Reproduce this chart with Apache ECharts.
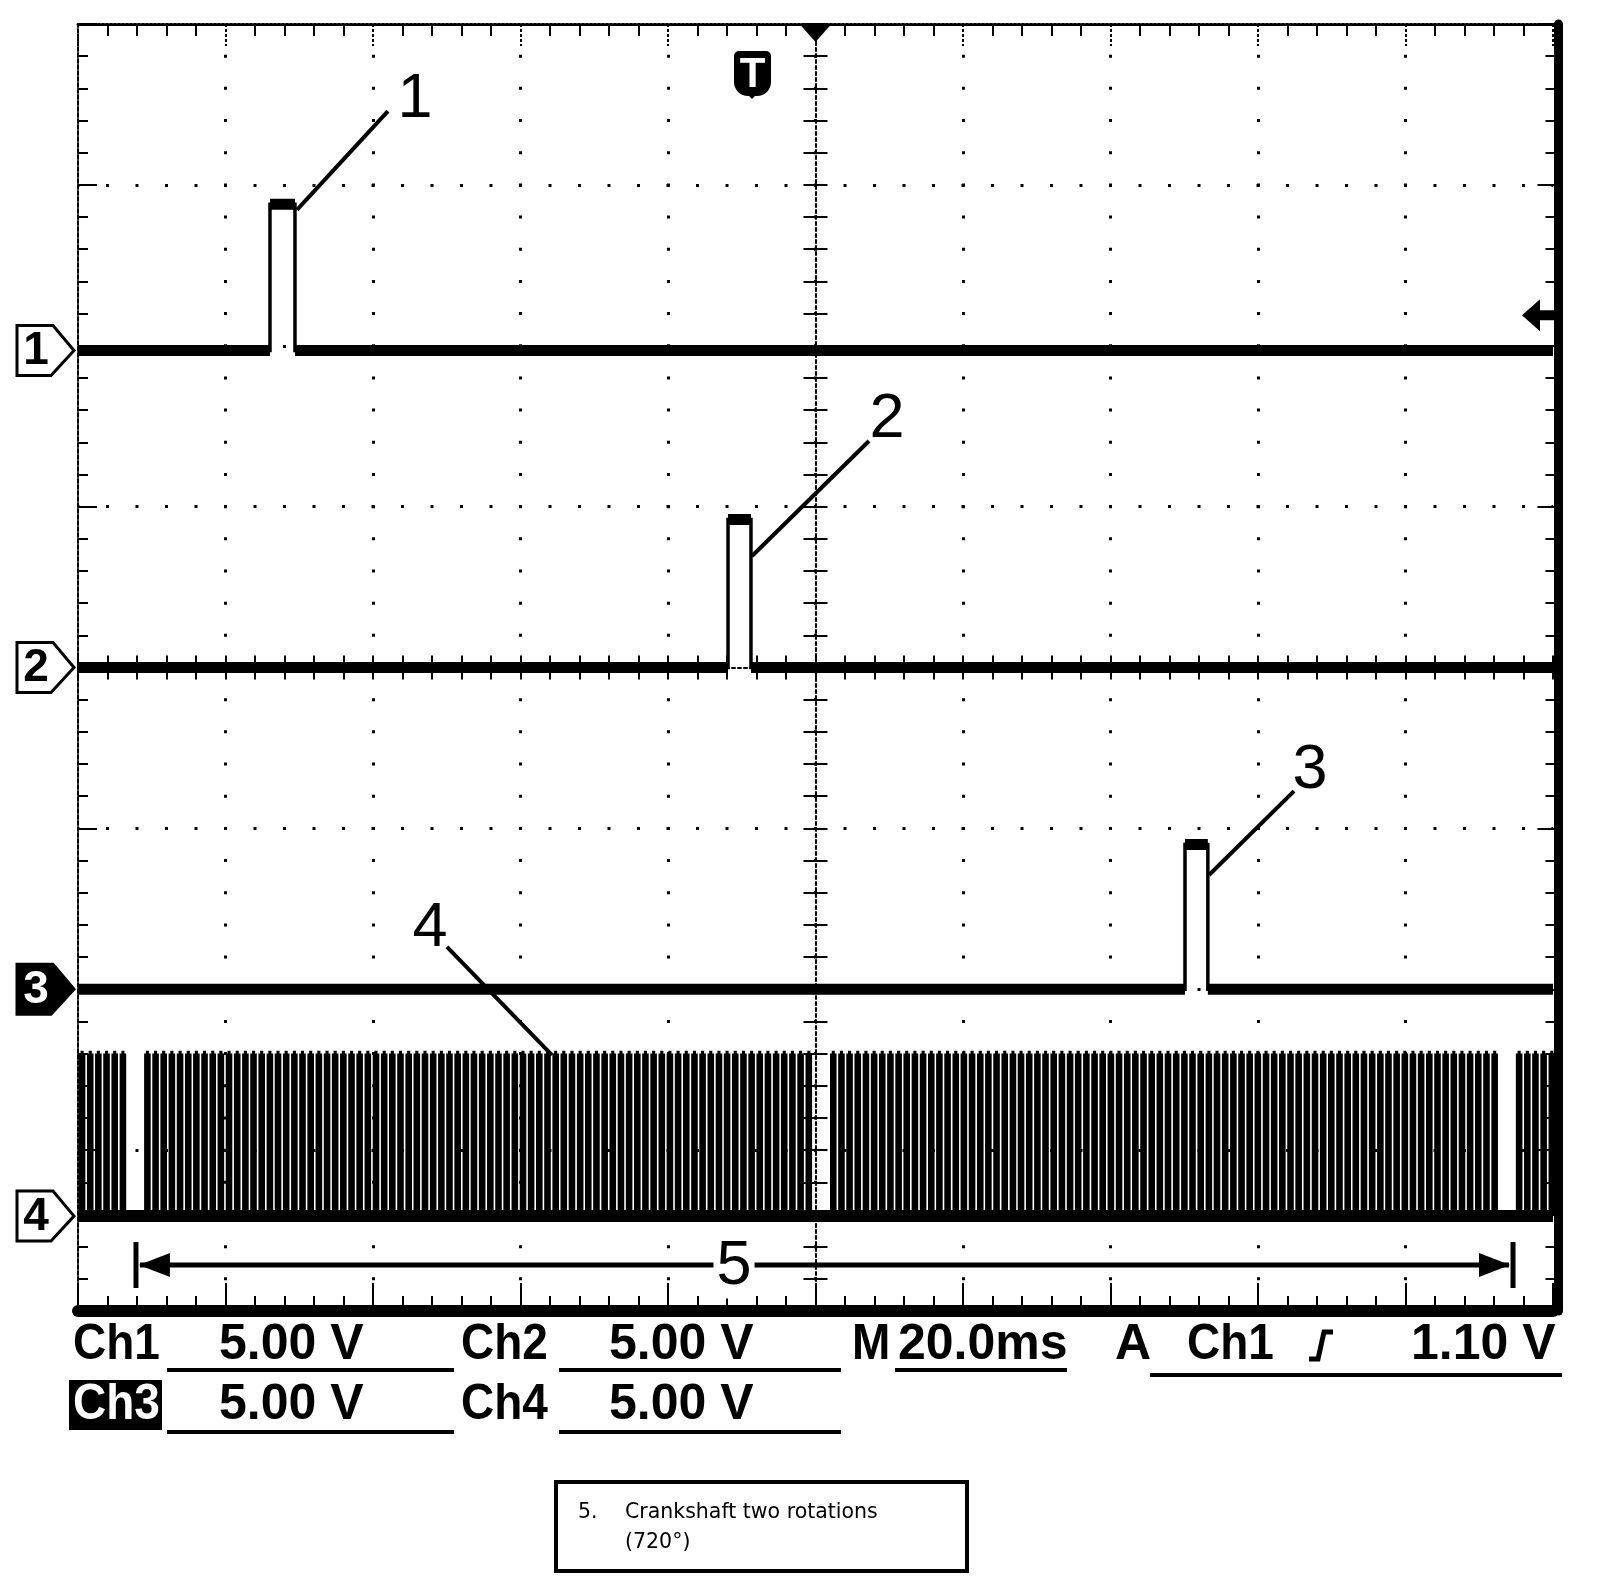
<!DOCTYPE html>
<html>
<head>
<meta charset="utf-8">
<title>Oscilloscope capture</title>
<script src="https://cdn.jsdelivr.net/npm/echarts@6.0.0/dist/echarts.min.js"></script>
<style>
html,body{margin:0;padding:0;background:#fff;}
#chart{width:1600px;height:1588px;}
</style>
</head>
<body>
<div id="chart"></div>
<script>
const timeWindowMs = [-100, 100];      // 10 div x 20.0 ms, trigger at centre
const msPerDiv = 20;
const divWindow = [-4, 4];             // 8 vertical divisions
const channelNames = ['1', '2', '3', '4'];
const voltsPerDiv = [5, 5, 5, 5];
const channelZeroDiv = [1.97, 0, -2, -3.41];

// injector pulses (Ch1..Ch3)
const injectorStartMs = [-73.97, -11.86, 50.10];
const injectorEndMs   = [-70.58, -8.75, 53.20];
const injectorVolts   = [4.55, 4.6, 4.5];

// crank sensor teeth (Ch4): rising edge times, ms
const crankHighVolts = 5.0;
const crankToothWidthMs = 0.42;
const crankToothRiseMs = [
  -99.66, -98.55, -97.45, -96.34, -95.23, -94.12,
  -90.80, -89.69, -88.59, -87.48, -86.37, -85.26, -84.16, -83.05, -81.94, -80.84,
  -79.73, -78.62, -77.51, -76.41, -75.30, -74.19, -73.09, -71.98, -70.87, -69.77,
  -68.66, -67.55, -66.44, -65.34, -64.23, -63.12, -62.02, -60.91, -59.80, -58.69,
  -57.59, -56.48, -55.37, -54.27, -53.16, -52.05, -50.94, -49.84, -48.73, -47.62,
  -46.52, -45.41, -44.30, -43.19, -42.09, -40.98, -39.87, -38.77, -37.66, -36.55,
  -35.44, -34.34, -33.23, -32.12, -31.02, -29.91, -28.80, -27.70, -26.59, -25.48,
  -24.37, -23.27, -22.16, -21.05, -19.95, -18.84, -17.73, -16.62, -15.52, -14.41,
  -13.30, -12.20, -11.09, -9.98, -8.87, -7.77, -6.66, -5.55, -4.45, -3.34,
  -2.23, -1.12,
  2.20, 3.31, 4.41, 5.52, 6.63, 7.74, 8.84, 9.95, 11.06, 12.16,
  13.27, 14.38, 15.49, 16.59, 17.70, 18.81, 19.91, 21.02, 22.13, 23.23,
  24.34, 25.45, 26.56, 27.66, 28.77, 29.88, 30.98, 32.09, 33.20, 34.31,
  35.41, 36.52, 37.63, 38.73, 39.84, 40.95, 42.06, 43.16, 44.27, 45.38,
  46.48, 47.59, 48.70, 49.81, 50.91, 52.02, 53.13, 54.23, 55.34, 56.45,
  57.56, 58.66, 59.77, 60.88, 61.98, 63.09, 64.20, 65.30, 66.41, 67.52,
  68.63, 69.73, 70.84, 71.95, 73.05, 74.16, 75.27, 76.38, 77.48, 78.59,
  79.70, 80.80, 81.91, 83.02, 84.13, 85.23, 86.34, 87.45, 88.55, 89.66,
  90.77, 91.88,
  95.20, 96.31, 97.41, 98.52, 99.63
];

// two crank rotations (720 deg) span, ms
const rotationSpanMs = [-92.14, 94.58];

// trigger
const triggerLevelV = 1.10;
const timebaseText = '20.0ms';
const statusRow1 = ['Ch1', '5.00 V', 'Ch2', '5.00 V', 'M', timebaseText, 'A', 'Ch1', '1.10 V'];
const statusRow2 = ['Ch3', '5.00 V', 'Ch4', '5.00 V'];
const captionLines = ['5.', 'Crankshaft two rotations', '(720°)'];

// ================= LAYOUT (annotation positions, data units) =================
const calloutText   = ['1', '2', '3', '4'];
const calloutAt     = [[-54.31, 3.528], [9.69, 1.538], [67.05, -0.643], [-52.27, -1.626]];
const calloutFrom   = [[-70.31, 2.844], [-8.61, 0.693], [53.36, -1.290], [-49.97, -1.737]];
const calloutTo     = [[-57.97, 3.459], [7.25, 1.408], [64.88, -0.768], [-35.73, -2.409]];
const spanY = -3.714, spanLabelT = -11.05, spanLabelY = -3.727;
const triggerIconT = -8.61;

// ================= BUILD =================
const chart = echarts.init(document.getElementById('chart'), null, {renderer: 'canvas', width: 1600, height: 1588});
const BLACK = '#000';

function pulseThin(i) {
  const z = channelZeroDiv[i], h = z + injectorVolts[i] / voltsPerDiv[i];
  const a = injectorStartMs[i], b = injectorEndMs[i];
  return [[timeWindowMs[0], z], [a, z], [a, h], [b, h], [b, z], [timeWindowMs[1], z]];
}
function pulseThick(i) {
  const z = channelZeroDiv[i], h = z + injectorVolts[i] / voltsPerDiv[i];
  const a = injectorStartMs[i], b = injectorEndMs[i];
  return [[timeWindowMs[0], z], [a, z], [a, '-'], [a, h], [b, h], [b, '-'], [b, z], [timeWindowMs[1], z]];
}
const zc = channelZeroDiv[3], hc = zc + crankHighVolts / voltsPerDiv[3];
const ch4Thin = [[timeWindowMs[0], zc]];
const ch4Tops = [];
crankToothRiseMs.forEach(t => {
  const e = t + crankToothWidthMs;
  ch4Thin.push([t, zc], [t, hc], [e, hc], [e, zc]);
  ch4Tops.push([t, hc], [e, hc], [e, '-']);
});
ch4Thin.push([timeWindowMs[1], zc]);
const ch4Low = [[timeWindowMs[0], zc], [timeWindowMs[1], zc]];

function lineSeries(data, width) {
  return {
    type: 'line', data, xAxisIndex: 0, yAxisIndex: 0, showSymbol: false, symbol: 'none',
    silent: true, animation: false, connectNulls: false, clip: true,
    lineStyle: {color: BLACK, width, cap: 'butt', join: 'miter'}
  };
}

const series = [];
for (let i = 0; i < 3; i++) {
  series.push(lineSeries(pulseThick(i), 11));
  series.push(lineSeries(pulseThin(i), 3.5));
}
series.push(lineSeries(ch4Low, 12));
series.push(lineSeries(ch4Tops, 9));
series.push(lineSeries(ch4Thin, 3.5));

const xBase = {type: 'value', min: timeWindowMs[0], max: timeWindowMs[1], interval: msPerDiv,
  axisLabel: {show: false}, splitLine: {show: false}};
const yBase = {type: 'value', min: divWindow[0], max: divWindow[1], interval: 1,
  axisLabel: {show: false}, splitLine: {show: false}};
const tickStyle = {color: BLACK, width: 2};

const option = {
  animation: false,
  backgroundColor: '#fff',
  grid: {left: 78, top: 24, width: 1475, height: 1287, containLabel: false, outerBoundsMode: 'none'},
  xAxis: [
    Object.assign({}, xBase, {position: 'bottom',
      axisLine: {show: true, onZero: false, lineStyle: {color: BLACK, width: 12}},
      axisTick: {show: true, inside: true, length: 28, lineStyle: tickStyle},
      minorTick: {show: true, splitNumber: 5, length: 15, lineStyle: tickStyle},
      splitLine: {show: true, showMinLine: false, showMaxLine: false,
        lineStyle: {color: BLACK, width: 3, type: [3, 29.175], dashOffset: 1.5, cap: 'butt'}}}),
    Object.assign({}, xBase, {position: 'top',
      axisLine: {show: true, onZero: false, lineStyle: {color: BLACK, width: 3, type: [2, 2]}},
      axisTick: {show: true, inside: true, length: 22, lineStyle: {color: BLACK, width: 2, type: [3, 2]}},
      minorTick: {show: true, splitNumber: 5, length: 12, lineStyle: tickStyle}}),
    Object.assign({}, xBase, {position: 'bottom',
      axisLine: {show: true, onZero: true, lineStyle: {color: BLACK, width: 2, type: [3, 3]}},
      axisTick: {show: true, inside: true, length: 12, lineStyle: tickStyle},
      minorTick: {show: true, splitNumber: 5, length: 12, lineStyle: tickStyle}}),
    Object.assign({}, xBase, {position: 'bottom',
      axisLine: {show: false, onZero: true},
      axisTick: {show: true, inside: false, length: 12, lineStyle: tickStyle},
      minorTick: {show: true, splitNumber: 5, length: 12, lineStyle: tickStyle}})
  ],
  yAxis: [
    Object.assign({}, yBase, {position: 'left',
      axisLine: {show: true, onZero: false, lineStyle: {color: BLACK, width: 2, type: [4, 2]}},
      axisTick: {show: true, inside: true, length: 19, lineStyle: tickStyle},
      minorTick: {show: true, splitNumber: 5, length: 10, lineStyle: tickStyle},
      splitLine: {show: true, showMinLine: false, showMaxLine: false,
        lineStyle: {color: BLACK, width: 3, type: [3, 26.5], dashOffset: 1.5, cap: 'butt'}}}),
    Object.assign({}, yBase, {position: 'right', offset: 5.5,
      axisLine: {show: true, onZero: false, lineStyle: {color: BLACK, width: 9}},
      axisTick: {show: true, inside: true, length: 21, lineStyle: tickStyle},
      minorTick: {show: true, splitNumber: 5, length: 13, lineStyle: tickStyle}}),
    Object.assign({}, yBase, {position: 'left',
      axisLine: {show: true, onZero: true, lineStyle: {color: BLACK, width: 2, type: [3, 3]}},
      axisTick: {show: true, inside: true, length: 12, lineStyle: tickStyle},
      minorTick: {show: true, splitNumber: 5, length: 12, lineStyle: tickStyle}}),
    Object.assign({}, yBase, {position: 'left',
      axisLine: {show: false, onZero: true},
      axisTick: {show: true, inside: false, length: 12, lineStyle: tickStyle},
      minorTick: {show: true, splitNumber: 5, length: 12, lineStyle: tickStyle}})
  ],
  series
};
chart.setOption(option);

// ================= ANNOTATIONS =================
function px(t, y) { return chart.convertToPixel({xAxisIndex: 0, yAxisIndex: 0}, [t, y]); }
const g = [];
function txt(text, x, y, size, weight, family, fill, align, extra, sx) {
  const el = {type: 'text', z: 100, style: Object.assign({
    text, x, y, fontSize: size, fontWeight: weight, fontFamily: family, fill: fill || BLACK,
    align: align || 'left', verticalAlign: 'middle'
  }, extra || {})};
  if (sx) { el.scaleX = sx; el.originX = x; el.originY = y; }
  return el;
}
function seg(x1, y1, x2, y2, w) {
  return {type: 'line', z: 100, shape: {x1, y1, x2, y2}, style: {stroke: BLACK, lineWidth: w, lineCap: 'butt'}};
}
function poly(points, fill, stroke, w) {
  return {type: 'polygon', z: 100, shape: {points},
    style: {fill: fill, stroke: stroke || null, lineWidth: w || 0, lineJoin: 'miter'}};
}
const LIB = 'Liberation Sans';

// channel ground markers
const gx = px(timeWindowMs[0], 0)[0];
channelNames.forEach((name, i) => {
  const y = px(timeWindowMs[0], channelZeroDiv[i])[1];
  const inv = i === 2;
  g.push(poly([[gx - 61, y - 25], [gx - 25, y - 25], [gx - 4, y], [gx - 27, y + 25], [gx - 61, y + 25]],
    inv ? BLACK : '#fff', BLACK, 3));
  g.push(txt(name, gx - 42, y + 1, 46, 'bold', LIB, inv ? '#fff' : BLACK, 'center'));
});

// trigger position marker (top, time zero)
const tp = px(0, divWindow[1]);
g.push(poly([[tp[0] - 16, tp[1]], [tp[0] + 16, tp[1]], [tp[0], tp[1] + 18]], BLACK));

// "T" icon
const ti = px(triggerIconT, divWindow[1]);
g.push({type: 'rect', z: 100, shape: {x: ti[0] - 18, y: ti[1] + 27, width: 37, height: 45, r: [5, 5, 14, 14]}, style: {fill: BLACK}});
g.push(poly([[ti[0] - 6, ti[1] + 69], [ti[0] + 6, ti[1] + 69], [ti[0], ti[1] + 75]], BLACK));
g.push(txt('T', ti[0] + 0.5, ti[1] + 51, 42, 'bold', LIB, '#fff', 'center'));

// trigger level arrow (right edge)
const tl = px(timeWindowMs[1], channelZeroDiv[0] + triggerLevelV / voltsPerDiv[0]);
g.push(poly([[tl[0] - 31, tl[1]], [tl[0] - 13, tl[1] - 16], [tl[0] - 13, tl[1] - 5], [tl[0] + 1, tl[1] - 5],
  [tl[0] + 1, tl[1] + 5], [tl[0] - 13, tl[1] + 5], [tl[0] - 13, tl[1] + 16]], BLACK));

// callouts 1..4
calloutText.forEach((s, i) => {
  const a = px(calloutFrom[i][0], calloutFrom[i][1]);
  const b = px(calloutTo[i][0], calloutTo[i][1]);
  g.push(seg(a[0], a[1], b[0], b[1], 4));
  const p = px(calloutAt[i][0], calloutAt[i][1]);
  g.push(txt(s, p[0], p[1], 63, 'normal', LIB, BLACK, 'center'));
});

// span arrow "5"
const s1 = px(rotationSpanMs[0], spanY), s2 = px(rotationSpanMs[1], spanY);
g.push(seg(s1[0] + 4, s1[1], s2[0] - 4, s2[1], 5));
g.push(seg(s1[0], s1[1] - 23, s1[0], s1[1] + 23, 5));
g.push(seg(s2[0], s2[1] - 23, s2[0], s2[1] + 23, 5));
g.push(poly([[s1[0] + 3, s1[1]], [s1[0] + 34, s1[1] - 12], [s1[0] + 34, s1[1] + 12]], BLACK));
g.push(poly([[s2[0] - 3, s2[1]], [s2[0] - 34, s2[1] - 12], [s2[0] - 34, s2[1] + 12]], BLACK));
const sl = px(spanLabelT, spanLabelY);
g.push(txt('5', sl[0], sl[1], 63, 'normal', LIB, BLACK, 'center', {backgroundColor: '#fff', padding: [0, 3]}));

// status text (scope read-out)
const row1X = [73, 219, 461, 609, 852, 898, 1115, 1187, 1411];
statusRow1.forEach((s, i) => g.push(txt(s, row1X[i], 1345, 50, 'bold', LIB, BLACK, 'left', null,
  s.indexOf('Ch') === 0 ? 0.92 : (s === 'M' ? 0.92 : null))));
// slope symbol
g.push({type: 'polyline', z: 100, shape: {points: [[1309, 1359], [1318, 1359], [1324, 1332], [1333, 1332]]},
  style: {stroke: BLACK, lineWidth: 5, fill: null}});
g.push({type: 'rect', z: 100, shape: {x: 69, y: 1380, width: 93, height: 50}, style: {fill: BLACK}});
const row2X = [73, 219, 461, 609];
statusRow2.forEach((s, i) => g.push(txt(s, row2X[i], 1405, 50, 'bold', LIB, i === 0 ? '#fff' : BLACK, 'left', null,
  s.indexOf('Ch') === 0 ? 0.92 : null)));
[[167, 454, 1370], [559, 841, 1370], [895, 1067, 1370], [1150, 1562, 1375], [167, 454, 1432], [559, 841, 1432]]
  .forEach(u => g.push(seg(u[0], u[2], u[1], u[2], 4)));

// caption box
g.push({type: 'rect', z: 100, shape: {x: 556, y: 1482, width: 411, height: 89}, style: {fill: '#fff', stroke: BLACK, lineWidth: 4}});
const CAP = 'DejaVu Sans';
g.push(txt(captionLines[0], 578, 1513, 20.5, 'normal', CAP));
g.push(txt(captionLines[1], 625, 1513, 20.5, 'normal', CAP));
g.push(txt(captionLines[2], 625, 1543, 20.5, 'normal', CAP));

chart.setOption({graphic: {elements: g}});
</script>
</body>
</html>
